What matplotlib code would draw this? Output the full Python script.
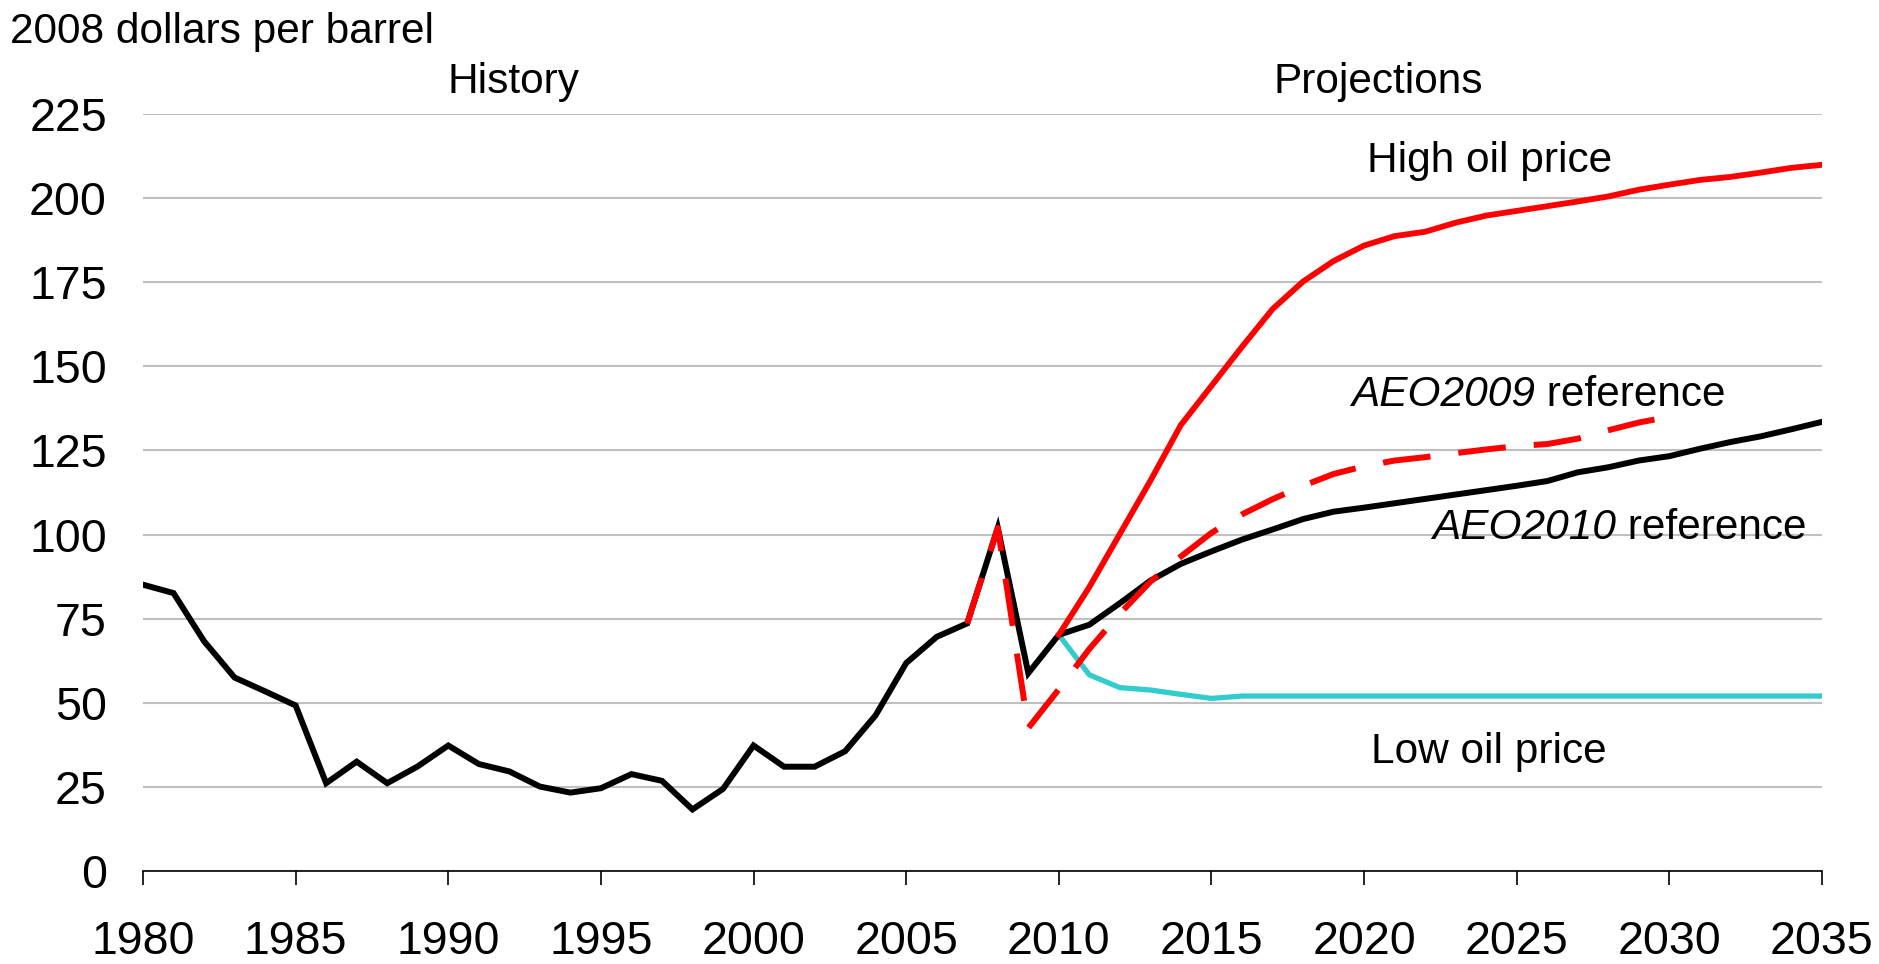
import numpy as np
import matplotlib
matplotlib.use("Agg")
import matplotlib.pyplot as plt

# ---------------------------------------------------------------------------
# Data (2008 dollars per barrel)
# ---------------------------------------------------------------------------
YEARS = np.arange(1980, 2036)

# History 1980-2010 followed by the AEO2010 reference case to 2035
AEO2010 = [85.1, 82.6, 68.3, 57.5, 53.4, 49.2, 26.1, 32.5, 26.1, 31.1,   # 1980-89
           37.3, 31.8, 29.6, 25.1, 23.3, 24.6, 28.8, 26.8, 18.3, 24.4,   # 1990-99
           37.3, 31.0, 31.0, 35.6, 46.3, 61.8, 69.6, 73.6, 102.0, 58.8,  # 2000-09
           70.2, 73.2, 79.6, 86.3, 91.3, 95.0, 98.5, 101.5, 104.6, 106.8,  # 2010-19
           108.0, 109.3, 110.6, 111.9, 113.2, 114.5, 115.9, 118.5, 120.0, 122.0,  # 2020-29
           123.3, 125.5, 127.5, 129.2, 131.3, 133.5]  # 2030-35

PROJ_YEARS = np.arange(2010, 2036)
HIGH_PRICE = [70.2, 84.4, 100.2, 116.0, 132.6, 144.2, 155.8, 167.0, 175.2, 181.3,
              185.9, 188.7, 190.0, 192.7, 194.8, 196.2, 197.6, 199.0, 200.5, 202.5,
              204.0, 205.4, 206.3, 207.6, 209.0, 209.9]
LOW_PRICE = [70.2, 58.3, 54.5, 53.8, 52.5, 51.3, 52.0, 52.0, 52.0, 52.0,
             52.0, 52.0, 52.0, 52.0, 52.0, 52.0, 52.0, 52.0, 52.0, 52.0,
             52.0, 52.0, 52.0, 52.0, 52.0, 52.0]

AEO2009_YEARS = np.arange(2007, 2031)
AEO2009 = [73.6, 102.0, 42.5, 54.0, 66.0, 76.5, 86.0, 93.5, 100.5, 106.0,
           110.5, 114.5, 118.0, 120.3, 122.0, 123.0, 124.2, 125.3, 126.3, 126.9,
           128.5, 131.0, 133.3, 135.0]

X_TICKS = list(range(1980, 2036, 5))
Y_TICKS = list(range(0, 226, 25))

# ---------------------------------------------------------------------------
# Style
# ---------------------------------------------------------------------------
RED = "#FF0000"
CYAN = "#33CCCC"
GRID = "#C0C0C0"

plt.rcParams.update({
    "font.family": ["Liberation Sans", "DejaVu Sans"],
    "font.size": 30.5,
})

fig = plt.figure(figsize=(18.79, 9.64), dpi=100)
ax = fig.add_axes([143 / 1879, 1 - 871 / 964, (1822 - 143) / 1879, (871 - 114) / 964])

ax.plot(YEARS, AEO2010, color="black", lw=4.3, solid_joinstyle="miter", zorder=3)
ax.plot(PROJ_YEARS, LOW_PRICE, color=CYAN, lw=3.8, zorder=2)
ax.plot(PROJ_YEARS, HIGH_PRICE, color=RED, lw=4.2, zorder=4)
ax.plot(AEO2009_YEARS, AEO2009, color=RED, lw=4.3, linestyle=(0, (8, 4.7)),
        dash_capstyle="butt", zorder=5)

ax.set_xlim(1980, 2035)
ax.set_ylim(0, 225)
ax.set_xticks(X_TICKS)
ax.set_yticks(Y_TICKS)
ax.yaxis.grid(True, color=GRID, lw=1.5, zorder=0)
ax.set_axisbelow(True)

for side in ["top", "right", "left"]:
    ax.spines[side].set_visible(False)
ax.spines["bottom"].set_linewidth(1.2)
ax.spines["bottom"].set_zorder(6)

ax.tick_params(axis="x", direction="out", length=10, width=1.2, pad=25, labelsize=33.5)
ax.tick_params(axis="y", length=0, pad=26, labelsize=33.5)

# Labels
fig.text(10 / 1879, 1 - 43 / 964, "2008 dollars per barrel", ha="left", va="baseline")
ax.text(1992.15, 231.1, "History", ha="center", va="baseline", clip_on=False)
ax.text(2020.45, 231.1, "Projections", ha="center", va="baseline", clip_on=False)
ax.text(2024.1, 207.9, "High oil price", ha="center", va="baseline")
ax.text(2024.1, 32.2, "Low oil price", ha="center", va="baseline")

ax.text(2025.6, 138.2, "AEO2009", style="italic", ha="right", va="baseline")
ax.text(2025.6, 138.2, " reference", ha="left", va="baseline")
ax.text(2028.24, 98.7, "AEO2010", style="italic", ha="right", va="baseline")
ax.text(2028.24, 98.7, " reference", ha="left", va="baseline", clip_on=False)

fig.savefig("out.png", dpi=100, facecolor="white")
